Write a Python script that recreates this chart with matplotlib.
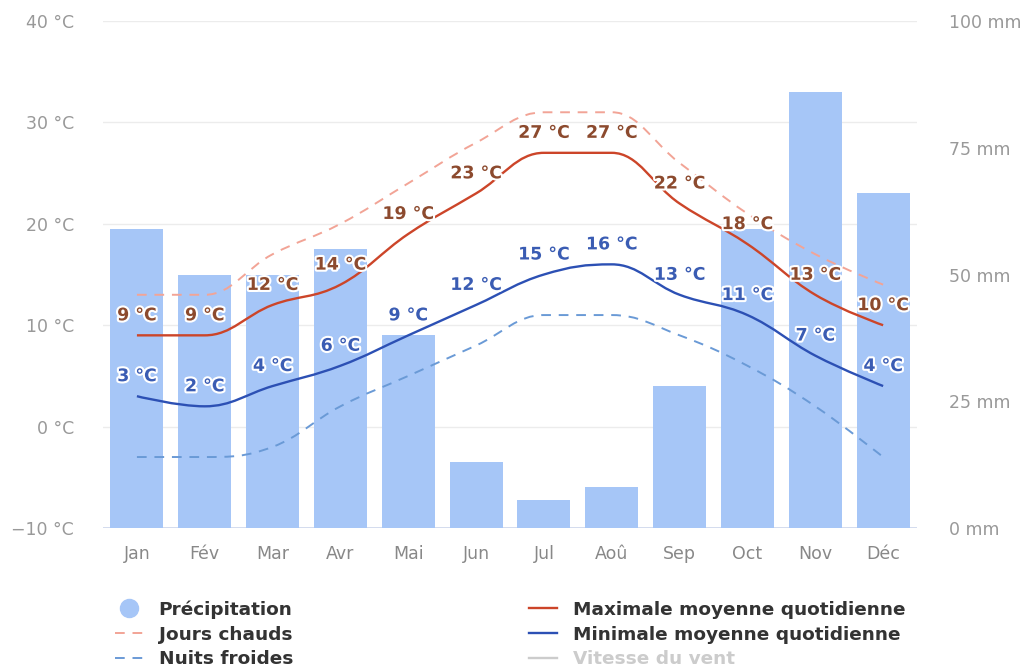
import numpy as np
import matplotlib
matplotlib.use("Agg")
import matplotlib.pyplot as plt
from matplotlib.path import Path
from matplotlib.patches import PathPatch
from matplotlib.lines import Line2D
import matplotlib.patheffects as pe

months = ['Jan', 'Fév', 'Mar', 'Avr', 'Mai', 'Jun', 'Jul', 'Aoû', 'Sep', 'Oct', 'Nov', 'Déc']
precip_mm = [59, 50, 50, 55, 38, 13, 5.5, 8, 28, 59, 86, 66]
max_temp = [9, 9, 12, 14, 19, 23, 27, 27, 22, 18, 13, 10]
min_temp = [3, 2, 4, 6, 9, 12, 15, 16, 13, 11, 7, 4]
hot_days = [13, 13, 17, 20, 24, 28, 31, 31, 26, 21, 17, 14]
cold_nights = [-3, -3, -2, 2, 5, 8, 11, 11, 9, 6, 2, -3]

temp_ticks = [-10, 0, 10, 20, 30, 40]
mm_ticks = [0, 25, 50, 75, 100]

# colours
bar_col = '#a6c6f7'
max_col = '#cc4529'
min_col = '#2c50b4'
hot_col = '#f2a496'
cold_col = '#6a9ad6'
max_lab = '#8c4a2e'
min_lab = '#3a5cb3'


# Highcharts-like spline: cubic bezier control points from neighbours
def spline_path(xs, ys, smoothing=1.5):
    n = len(xs)
    lc = [(xs[i], ys[i]) for i in range(n)]
    rc = [(xs[i], ys[i]) for i in range(n)]
    denom = smoothing + 1
    for i in range(1, n - 1):
        x, y = xs[i], ys[i]
        px, py = xs[i - 1], ys[i - 1]
        nx, ny = xs[i + 1], ys[i + 1]
        lcx = (smoothing * x + px) / denom
        lcy = (smoothing * y + py) / denom
        rcx = (smoothing * x + nx) / denom
        rcy = (smoothing * y + ny) / denom
        if rcx != lcx:
            corr = ((rcy - lcy) * (rcx - x)) / (rcx - lcx) + y - rcy
            lcy += corr
            rcy += corr
        if lcy > max(py, y):
            lcy = max(py, y)
            rcy = 2 * y - lcy
        elif lcy < min(py, y):
            lcy = min(py, y)
            rcy = 2 * y - lcy
        if rcy > max(ny, y):
            rcy = max(ny, y)
            lcy = 2 * y - rcy
        elif rcy < min(ny, y):
            rcy = min(ny, y)
            lcy = 2 * y - rcy
        lc[i] = (lcx, lcy)
        rc[i] = (rcx, rcy)
    verts = [(xs[0], ys[0])]
    codes = [Path.MOVETO]
    for i in range(1, n):
        verts += [rc[i - 1], lc[i], (xs[i], ys[i])]
        codes += [Path.CURVE4] * 3
    return Path(verts, codes)


fig = plt.figure(figsize=(10.26, 6.67), dpi=100)
ax = fig.add_axes([0.1004, 0.2084, 0.7934, 0.7601])
ax2 = ax.twinx()

x = np.arange(len(months))

# precipitation bars on the right axis
ax2.set_ylim(0, 100)
ax2.bar(x, precip_mm, width=0.78, color=bar_col, zorder=2)
ax2.set_yticks(mm_ticks)
ax2.set_yticklabels([f'{t} mm' for t in mm_ticks])

# grid behind the bars: map the temperature ticks onto the mm axis
t_lo, t_hi = -10, 40
for t in temp_ticks[1:]:
    ax2.axhline((t - t_lo) / (t_hi - t_lo) * 100, color='#ececec', lw=1, zorder=0)
ax2.axhline(0, color='#ccd6eb', lw=1.2, zorder=1)

# temperature lines on the left axis, drawn above the bars
ax.set_zorder(ax2.get_zorder() + 1)
ax.patch.set_visible(False)
ax.set_ylim(t_lo, t_hi)
ax.set_xlim(-0.5, len(months) - 0.5)
ax.set_yticks(temp_ticks)
ax.set_yticklabels([f'{t} °C'.replace('-', '\u2212') for t in temp_ticks])
ax.set_xticks(x)
ax.set_xticklabels(months)

series = [
    (hot_days, hot_col, (0, (5, 4)), 1.4),
    (cold_nights, cold_col, (0, (5, 4)), 1.4),
    (max_temp, max_col, '-', 1.7),
    (min_temp, min_col, '-', 1.7),
]
for vals, col, ls, lw in series:
    ax.add_patch(PathPatch(spline_path(list(x), vals), fill=False,
                           edgecolor=col, linestyle=ls, lw=lw, zorder=3))

outline = [pe.withStroke(linewidth=3, foreground='white')]
for vals, col in [(max_temp, max_lab), (min_temp, min_lab)]:
    for xi, v in zip(x, vals):
        ax.annotate(f'{v} °C', (xi, v), xytext=(0, 20), textcoords='offset pixels',
                    ha='center', va='center', fontsize=12.5, fontweight='bold',
                    color=col, path_effects=outline, zorder=5)

for a in (ax, ax2):
    for s in a.spines.values():
        s.set_visible(False)
    a.tick_params(length=0, labelsize=12.5, labelcolor='#999999')
ax.tick_params(axis='y', pad=21)
ax.tick_params(axis='x', pad=12, labelcolor='#888888')
ax2.tick_params(axis='y', pad=23)

# legend
handles = [
    Line2D([], [], marker='o', ls='none', markersize=13, color=bar_col),
    Line2D([], [], color=hot_col, lw=1.4, ls=(0, (5, 4))),
    Line2D([], [], color=cold_col, lw=1.4, ls=(0, (5, 4))),
    Line2D([], [], color=max_col, lw=1.7),
    Line2D([], [], color=min_col, lw=1.7),
    Line2D([], [], color='#cccccc', lw=1.7),
]
labels = ['Précipitation', 'Jours chauds', 'Nuits froides',
          'Maximale moyenne quotidienne', 'Minimale moyenne quotidienne', 'Vitesse du vent']
leg = fig.legend(handles, labels, ncol=2, loc='upper left', bbox_to_anchor=(0.105, 0.111),
                 frameon=False, fontsize=13.3, handlelength=1.5, handletextpad=0.85,
                 columnspacing=12.8, labelspacing=0.36, borderaxespad=0)
for txt in leg.get_texts():
    txt.set_color('#333333')
    txt.set_fontweight('bold')
leg.get_texts()[-1].set_color('#cccccc')

fig.savefig('out.png', dpi=100)
